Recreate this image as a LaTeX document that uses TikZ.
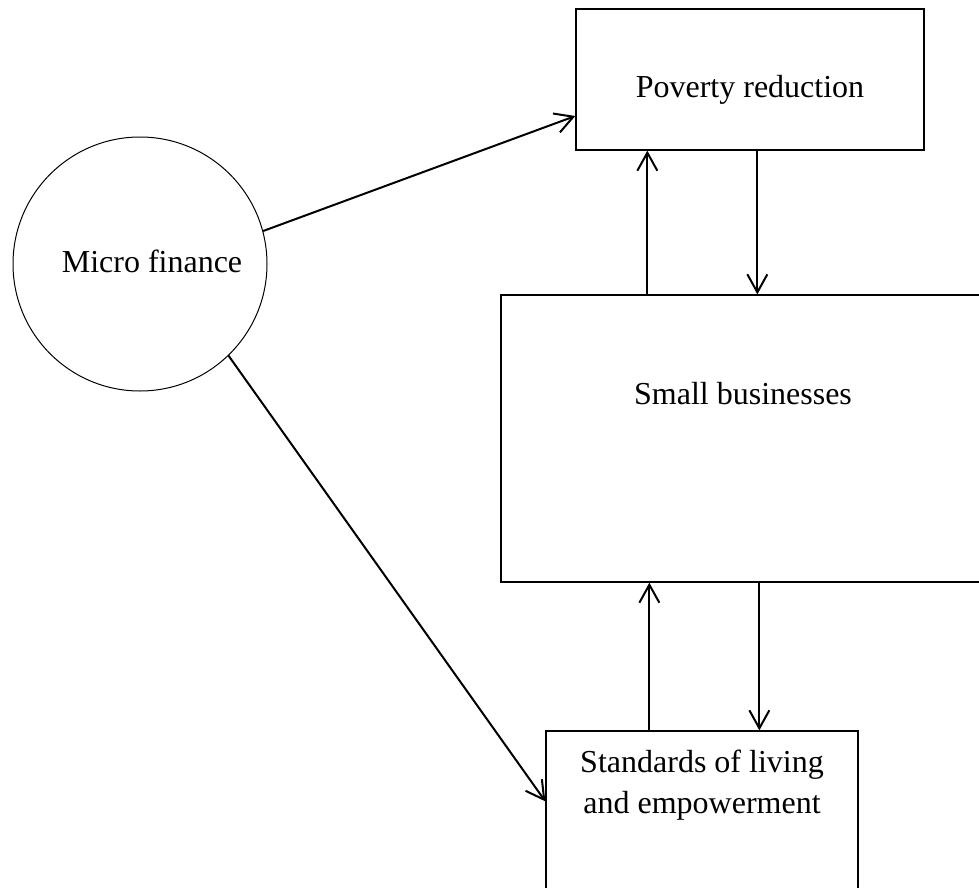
\documentclass[tikz,border=0pt]{standalone}
\usepackage{fontspec}
\setmainfont{Liberation Serif}
\usetikzlibrary{arrows.meta}

\begin{document}
\begin{tikzpicture}[x=0.5pt, y=-0.5pt,
    box/.style={draw, line width=0.65pt, rectangle, inner sep=0pt},
    hub/.style={draw, line width=0.5pt, circle, inner sep=0pt, minimum size=127pt},
    txt/.style={font=\fontsize{16}{20.5}\selectfont, align=center},
    arr/.style={line width=1pt, -{Straight Barb[length=9pt,width=10pt]}}]
    % Fix the frame of the picture
    \useasboundingbox (0,0) rectangle (979,888);
    \clip (0,0) rectangle (979,888);

    % Draw the circle and the boxes
    \node[hub] (mf) at (140,264) {};
    \node[box, minimum width=174pt, minimum height=70.5pt] (pov) at (750,79.5) {};
    \node[box, minimum width=254.5pt, minimum height=143.5pt] (sb) at (755.5,438.5) {};
    \node[box, minimum width=156pt, minimum height=94.5pt] (sl) at (702,825.5) {};

    % Place the texts
    \node[txt] (mftxt) at (152,261) {Micro finance};
    \node[txt] (povtxt) at (750,90) {Poverty reduction};
    \node[txt] (sbtxt) at (743,394) {Small businesses};
    \node[txt] (sltxt) at (702,785) {Standards of living\\and empowerment};

    % Arrows from the circle
    \draw[arr] (mf.15.6) -- ([yshift=-18.25pt]pov.west);
    \draw[arr] (mf.-46.5) -- ([yshift=-35.5pt]sl.north west);

    % Arrows between the boxes
    \coordinate (pu) at ([xshift=36pt]pov.south west);
    \coordinate (pd) at ([xshift=91pt]pov.south west);
    \coordinate (lu) at ([xshift=52pt]sl.north west);
    \coordinate (ld) at ([xshift=107pt]sl.north west);
    \draw[arr] (pu |- sb.north) -- (pu);
    \draw[arr] (pd) -- (pd |- sb.north);
    \draw[arr] (lu) -- (lu |- sb.south);
    \draw[arr] (ld |- sb.south) -- (ld);
\end{tikzpicture}
\end{document}
